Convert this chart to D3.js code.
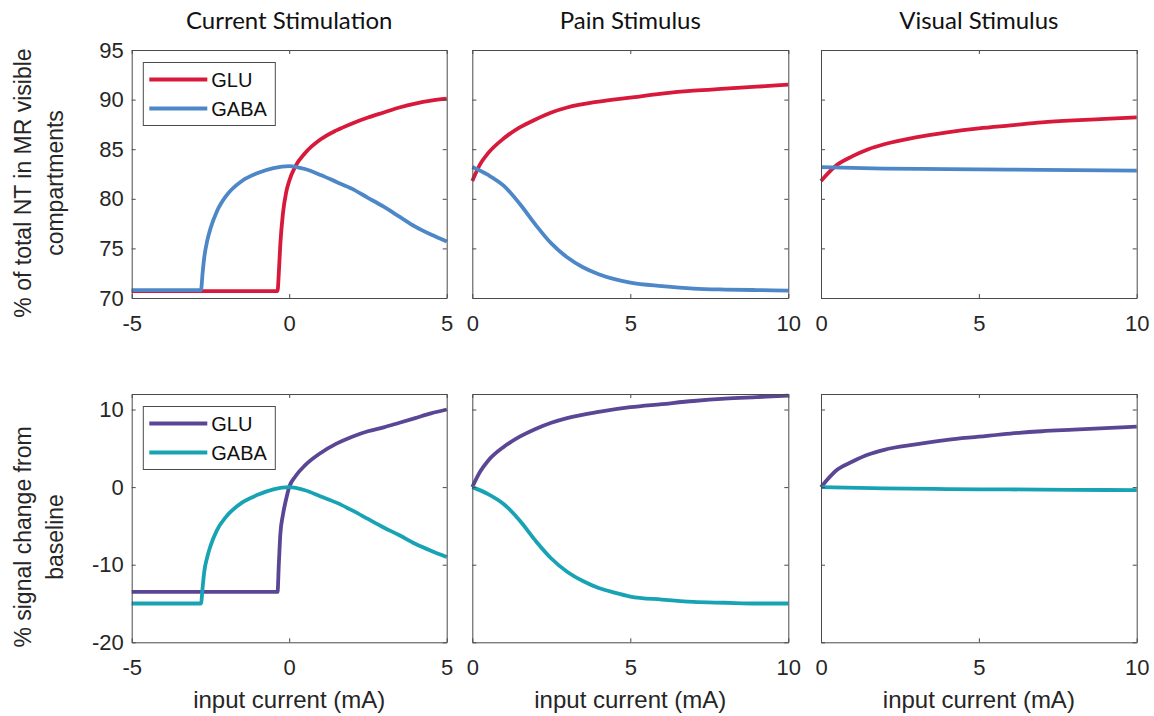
<!DOCTYPE html>
<head>
  <meta charset="utf-8">
  <title>NT compartments</title>
  <script src="https://d3js.org/d3.v7.min.js"></script>
  <style>
    body { margin: 0; background: #fff; }
    #fig { width: 1154px; height: 716px; display: block; }
    .axis path, .axis line { stroke: #4a4a4a; stroke-width: 1px; }
    .axis text { font-family: "Liberation Sans", Arial, sans-serif; font-size: 22px; fill: #262626; }
    .lbl { font-family: "Liberation Sans", Arial, sans-serif; font-size: 23px; fill: #262626; }
    .ttl { font-family: Lato, sans-serif; font-size: 24px; fill: #111; }
  </style>
</head>
<body>
<svg id="fig"></svg>
<script>
// panel titles and axis text
var titles = ["Current Stimulation", "Pain Stimulus", "Visual Stimulus"];
var xDomains = [[-5, 5], [0, 10], [0, 10]];
var xTicks = [[-5, 0, 5], [0, 5, 10], [0, 5, 10]];
var ntTicks = [70, 75, 80, 85, 90, 95];
var sigTicks = [-20, -10, 0, 10];
var ntLabel = ["% of total NT in MR visible", "compartments"];
var sigLabel = ["% signal change from", "baseline"];
var xLabel = "input current (mA)";
var seriesNames = ["GLU", "GABA"];

// current stimulation
var curGluX   = [-5, -0.37, -0.33, -0.28, -0.2, -0.1, 0, 0.2, 0.5, 1, 1.5, 2, 2.5, 3, 3.5, 4, 4.5, 5];
var curGluNT  = [70.7, 70.7, 72.5, 75.5, 78.5, 80.6, 81.8, 83.3, 84.6, 86.0, 86.9, 87.6, 88.2, 88.7, 89.2, 89.6, 89.9, 90.1];
var curGluSig = [-13.5, -13.5, -10, -6, -3.6, -1.6, 0, 1.4, 2.8, 4.4, 5.6, 6.5, 7.2, 7.7, 8.3, 8.9, 9.5, 10.0];
var curGabaX   = [-5, -2.8, -2.75, -2.7, -2.6, -2.5, -2.3, -2, -1.5, -1, -0.5, 0, 0.5, 1, 1.5, 2, 2.5, 3, 3.5, 4, 4.5, 5];
var curGabaNT  = [70.8, 70.8, 72.5, 74.0, 75.8, 77.0, 78.7, 80.3, 81.8, 82.6, 83.1, 83.3, 83.0, 82.4, 81.7, 81.0, 80.1, 79.2, 78.2, 77.2, 76.4, 75.7];
var curGabaSig = [-15, -15, -13, -11, -9, -7.6, -5.6, -3.8, -2.0, -1.0, -0.3, 0, -0.4, -1.2, -2.0, -3.0, -4.1, -5.2, -6.2, -7.3, -8.2, -9.0];

// pain stimulus
var painGluX   = [0, 0.25, 0.5, 1, 1.5, 2, 2.5, 3, 4, 5, 6, 7, 8, 9, 10];
var painGluNT  = [81.8, 83.5, 84.6, 86.1, 87.2, 88.0, 88.7, 89.2, 89.8, 90.2, 90.6, 90.9, 91.1, 91.3, 91.5];
var painGluSig = [0, 2.0, 3.4, 5.2, 6.5, 7.5, 8.3, 8.9, 9.7, 10.3, 10.7, 11.1, 11.4, 11.6, 11.8];
var painGabaX   = [0, 0.5, 1, 1.5, 2, 2.5, 3, 3.5, 4, 4.5, 5, 6, 7, 8, 9, 10];
var painGabaNT  = [83.2, 82.4, 81.3, 79.5, 77.4, 75.5, 74.1, 73.1, 72.4, 71.9, 71.55, 71.2, 70.95, 70.85, 70.8, 70.75];
var painGabaSig = [0, -0.9, -2.2, -4.3, -6.9, -9.2, -10.9, -12.1, -13.0, -13.6, -14.1, -14.5, -14.8, -14.9, -15.0, -15.0];

// visual stimulus
var visGluX   = [0, 0.5, 1, 1.5, 2, 3, 4, 5, 6, 7, 8, 9, 10];
var visGluNT  = [81.8, 83.4, 84.3, 85.0, 85.5, 86.2, 86.7, 87.1, 87.4, 87.7, 87.9, 88.05, 88.2];
var visGluSig = [0, 2.2, 3.3, 4.2, 4.8, 5.5, 6.1, 6.5, 6.9, 7.2, 7.4, 7.6, 7.8];
var visGabaX   = [0, 2, 4, 6, 8, 10];
var visGabaNT  = [83.2, 83.05, 83.0, 82.95, 82.9, 82.85];
var visGabaSig = [0, -0.15, -0.25, -0.3, -0.35, -0.4];

var ntColors = ["#d7193c", "#4d87c7"];
var sigColors = ["#5b4696", "#18a3b5"];

var svg = d3.select("#fig");

var cols = [[131.7, 446.7], [472.3, 788.3], [821, 1136.7]];
var rows = [
  {top: 50, bottom: 298, domain: [70, 95], ticks: ntTicks, colors: ntColors, label: ntLabel, labelY: 183,
   series: [[[curGluX, curGluNT], [curGabaX, curGabaNT]],
            [[painGluX, painGluNT], [painGabaX, painGabaNT]],
            [[visGluX, visGluNT], [visGabaX, visGabaNT]]]},
  {top: 394, bottom: 642.3, domain: [-20, 12], ticks: sigTicks, colors: sigColors, label: sigLabel, labelY: 537,
   series: [[[curGluX, curGluSig], [curGabaX, curGabaSig]],
            [[painGluX, painGluSig], [painGabaX, painGabaSig]],
            [[visGluX, visGluSig], [visGabaX, visGabaSig]]]}
];

var tick = 4;
var plain = function(d) { return String(d); };  // keep ascii hyphen like the original

rows.forEach(function(row, r) {
  var y = d3.scaleLinear().domain(row.domain).range([row.bottom, row.top]);

  cols.forEach(function(c, i) {
    var x = d3.scaleLinear().domain(xDomains[i]).range(c);
    var g = svg.append("g");

    // lines
    var line = d3.line()
      .x(function(d) { return x(d[0]); })
      .y(function(d) { return y(d[1]); })
      .curve(d3.curveMonotoneX);

    row.series[i].forEach(function(s, k) {
      var pts = s[0].map(function(v, j) { return [v, s[1][j]]; });
      g.append("path")
        .datum(pts)
        .attr("d", line)
        .attr("fill", "none")
        .attr("stroke", row.colors[k])
        .attr("stroke-width", 3.8)
        .attr("stroke-linejoin", "round");
    });

    // box with inward ticks on all sides
    g.append("g").attr("class", "axis")
      .attr("transform", "translate(0," + row.bottom + ")")
      .call(d3.axisBottom(x).tickValues(xTicks[i]).tickFormat(plain)
        .tickSizeInner(-tick).tickSizeOuter(0).tickPadding(17));
    g.append("g").attr("class", "axis")
      .attr("transform", "translate(0," + row.top + ")")
      .call(d3.axisTop(x).tickValues(xTicks[i]).tickFormat("")
        .tickSizeInner(-tick).tickSizeOuter(0));
    var left = d3.axisLeft(y).tickValues(row.ticks).tickFormat(plain)
      .tickSizeInner(-tick).tickSizeOuter(0).tickPadding(8);
    if (i > 0) left.tickFormat("");
    g.append("g").attr("class", "axis")
      .attr("transform", "translate(" + c[0] + ",0)")
      .call(left);
    g.append("g").attr("class", "axis")
      .attr("transform", "translate(" + c[1] + ",0)")
      .call(d3.axisRight(y).tickValues(row.ticks).tickFormat("")
        .tickSizeInner(-tick).tickSizeOuter(0));

    if (r === 0) {
      svg.append("text").attr("class", "ttl")
        .attr("x", (c[0] + c[1]) / 2).attr("y", 29)
        .attr("text-anchor", "middle")
        .text(titles[i]);
    } else {
      svg.append("text").attr("class", "lbl")
        .attr("x", (c[0] + c[1]) / 2).attr("y", 708)
        .attr("text-anchor", "middle")
        .style("font-size", "24px")
        .text(xLabel);
    }
  });

  // legend in first panel
  var lx = 143.3, ly = row.top + 12.5;
  var leg = svg.append("g");
  leg.append("rect")
    .attr("x", lx).attr("y", ly).attr("width", 132).attr("height", 63)
    .attr("fill", "#fff").attr("stroke", "#4a4a4a").attr("stroke-width", 1);
  seriesNames.forEach(function(name, k) {
    var yy = ly + 17 + k * 29;
    leg.append("line")
      .attr("x1", lx + 6).attr("x2", lx + 64)
      .attr("y1", yy).attr("y2", yy)
      .attr("stroke", row.colors[k]).attr("stroke-width", 3.8);
    leg.append("text")
      .attr("x", lx + 68).attr("y", yy).attr("dy", "0.36em")
      .style("font-family", "'Liberation Sans', Arial, sans-serif")
      .style("font-size", "20px").style("fill", "#111")
      .text(name);
  });

  // two-line y label
  row.label.forEach(function(t, k) {
    svg.append("text").attr("class", "lbl")
      .attr("transform", "translate(" + (31 + k * 32) + "," + row.labelY + ") rotate(-90)")
      .attr("text-anchor", "middle")
      .text(t);
  });
});
</script>
</body>
</html>
